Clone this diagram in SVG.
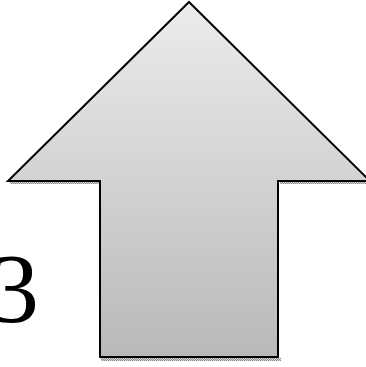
<svg xmlns="http://www.w3.org/2000/svg" width="366" height="367" viewBox="0 0 366 367">
<defs>
<linearGradient id="g" x1="0" y1="0" x2="0" y2="1">
<stop offset="0" stop-color="#ececec"/>
<stop offset="1" stop-color="#b9b9b9"/>
</linearGradient>
<pattern id="dots" width="2" height="2" patternUnits="userSpaceOnUse">
<rect width="2" height="2" fill="#d8d8d8"/>
<rect width="1" height="1" fill="#888"/>
<rect x="1" y="1" width="1" height="1" fill="#888"/>
</pattern>
<style>
.arrow{fill:url(#g);stroke:#000;stroke-width:2;stroke-linejoin:miter}
.lbl{font-family:"Liberation Serif","Times New Roman",serif;font-size:100px;fill:#000}
</style>
</defs>
<rect width="366" height="367" fill="#fff"/>
<g id="shadow" fill="url(#dots)">
<rect x="10" y="181" width="90" height="3"/>
<rect x="280" y="181" width="92" height="3"/>
<rect x="101" y="358" width="180" height="3"/>
</g>
<g id="arrow">
<polygon class="arrow" points="189,2 370,181 278,181 278,357 100,357 100,181 8,181"/>
</g>
<g id="label">
<text class="lbl" x="-11" y="322">3</text>
</g>
</svg>
